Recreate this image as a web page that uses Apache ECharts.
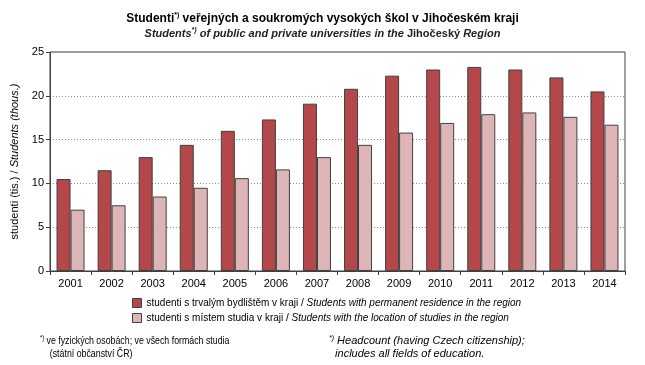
<!DOCTYPE html>
<html>
<head>
<meta charset="utf-8">
<script src="https://cdn.jsdelivr.net/npm/echarts@6/dist/echarts.min.js"></script>
<style>
html,body{margin:0;padding:0;background:#fff;}
#c{width:645px;height:365px;}
</style>
</head>
<body>
<div id="c"></div>
<script>
var years = ['2001','2002','2003','2004','2005','2006','2007','2008','2009','2010','2011','2012','2013','2014'];
var residence = [10.5, 11.5, 13.0, 14.4, 16.0, 17.3, 19.1, 20.8, 22.3, 23.0, 23.3, 23.0, 22.1, 20.5];
var studyPlace = [7.0, 7.5, 8.5, 9.5, 10.6, 11.6, 13.0, 14.4, 15.8, 16.9, 17.9, 18.1, 17.6, 16.7];
var yTicks = [0, 5, 10, 15, 20, 25];

var FONT = '"Liberation Sans", Arial, sans-serif';
var chart = echarts.init(document.getElementById('c'), null, {renderer: 'canvas'});

var legendNames = {
  'a': ['studenti s trvalým bydlištěm v kraji / ', 'Students with permanent residence in the region'],
  'b': ['studenti s místem studia v kraji / ', 'Students with the location of studies in the region']
};

chart.setOption({
  animation: false,
  backgroundColor: '#fff',
  textStyle: {fontFamily: FONT},
  title: [{
    text: '{b|Studenti}{s|*)}{b| veřejných a soukromých vysokých škol v Jihočeském kraji}',
    left: 'center', top: 7,
    textStyle: {
      rich: {
        b: {fontFamily: FONT, fontWeight: 'bold', fontSize: 12, color: '#000'},
        s: {fontFamily: FONT, fontWeight: 'bold', fontSize: 7, color: '#000', padding: [0,0,6,0]}
      }
    }
  }, {
    text: '{i|Students}{s|*)}{i| of public and private universities in the }{n|Jihočeský}{i| Region}',
    left: 'center', top: 22,
    textStyle: {
      rich: {
        i: {fontFamily: FONT, fontStyle: 'italic', fontSize: 11, color: '#222'},
        n: {fontFamily: FONT, fontSize: 11, color: '#222'},
        s: {fontFamily: FONT, fontStyle: 'italic', fontSize: 7, color: '#222', padding: [0,0,6,0]}
      }
    }
  }],
  legend: {
    orient: 'vertical',
    left: 127, top: 293,
    itemWidth: 9, itemHeight: 9, itemGap: 5,
    icon: 'rect',
    data: [
      {name: 'a', itemStyle: {borderColor: '#404040', borderWidth: 1}},
      {name: 'b', itemStyle: {borderColor: '#404040', borderWidth: 1}}
    ],
    formatter: function (n) { return '{n|' + legendNames[n][0] + '}{i|' + legendNames[n][1] + '}'; },
    textStyle: {
      rich: {
        n: {fontFamily: FONT, fontSize: 10, color: '#000', lineHeight: 11},
        i: {fontFamily: FONT, fontSize: 10, fontStyle: 'italic', color: '#000', lineHeight: 11}
      }
    }
  },
  grid: {left: 50, right: 20, top: 52, bottom: 94, show: true, borderColor: '#404040', borderWidth: 1, backgroundColor: 'transparent'},
  xAxis: {
    type: 'category',
    data: years,
    axisLine: {lineStyle: {color: '#404040'}},
    axisTick: {show: true, length: 4, lineStyle: {color: '#404040'}},
    axisLabel: {color: '#000', fontSize: 11, fontFamily: FONT, margin: 7, interval: 0}
  },
  yAxis: {
    type: 'value',
    min: 0, max: 25, interval: 5,
    name: '{n|studenti (tis.) / }{i|Students (thous.)}',
    nameLocation: 'middle', nameGap: 30, nameRotate: 90,
    nameTextStyle: {
      rich: {
        n: {fontFamily: FONT, fontSize: 11, color: '#000'},
        i: {fontFamily: FONT, fontSize: 11, fontStyle: 'italic', color: '#000'}
      }
    },
    axisLine: {show: true, lineStyle: {color: '#404040'}},
    axisTick: {show: true, length: 4, lineStyle: {color: '#404040'}},
    axisLabel: {color: '#000', fontSize: 11, fontFamily: FONT, margin: 6,
      formatter: function (v) { return yTicks.indexOf(v) >= 0 ? String(v) : ''; }},
    splitLine: {show: true, lineStyle: {color: '#8c8c8c', type: [1, 2], width: 1}}
  },
  series: [{
    name: 'a', type: 'bar', data: residence, barWidth: 14, barGap: '0%',
    itemStyle: {color: '#b3474a', borderColor: '#404040', borderWidth: 1}
  }, {
    name: 'b', type: 'bar', data: studyPlace, barWidth: 14, barGap: '0%',
    itemStyle: {color: '#ddb5b6', borderColor: '#404040', borderWidth: 1}
  }],
  graphic: [{
    type: 'text', x: 40, y: 334, scaleX: 0.8,
    style: {
      text: '{s|*)}{n| ve fyzických osobách; ve všech formách studia}\n{n|    (státní občanství ČR)}',
      rich: {
        n: {fontFamily: FONT, fontSize: 11, color: '#000', lineHeight: 13},
        s: {fontFamily: FONT, fontSize: 7, color: '#000', padding: [0,0,5,0]}
      }
    }
  }, {
    type: 'text', x: 329, y: 334,
    style: {
      text: '{s|*)}{i| Headcount (having Czech citizenship);}\n{i|  includes all fields of education.}',
      rich: {
        i: {fontFamily: FONT, fontSize: 11, fontStyle: 'italic', color: '#000', lineHeight: 13},
        s: {fontFamily: FONT, fontSize: 7, fontStyle: 'italic', color: '#000', padding: [0,0,5,0]}
      }
    }
  }]
});
</script>
</body>
</html>
